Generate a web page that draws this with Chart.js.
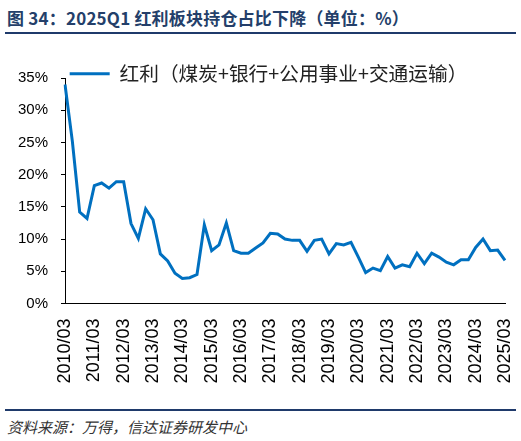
<!DOCTYPE html>
<html>
<head>
<meta charset="utf-8">
<script src="https://cdn.jsdelivr.net/npm/chart.js@4.4.0/dist/chart.umd.min.js"></script>
<style>
  html, body { margin: 0; padding: 0; background: #fff; }
  #wrap { position: relative; width: 521px; height: 441px; overflow: hidden; }
  #title { position: absolute; left: 7px; top: 5px; font: bold 17px "Noto Sans CJK SC", sans-serif; color: #243f6a; white-space: nowrap; letter-spacing: 0.2px; }
  .rule { position: absolute; left: 5px; width: 511px; height: 2px; background: #1f3a6b; }
  #source { position: absolute; left: 7px; top: 416px; font: italic 15px "Noto Sans CJK SC", sans-serif; color: #333; white-space: nowrap; }
  #chart { position: absolute; left: 0; top: 52px; }
</style>
</head>
<body>
<div id="wrap">
  <div id="title">图 34：2025Q1 红利板块持仓占比下降（单位：%）</div>
  <div class="rule" style="top:32px"></div>
  <canvas id="chart" width="521" height="344"></canvas>
  <div class="rule" style="top:409px"></div>
  <div id="source">资料来源：万得，信达证券研发中心</div>
</div>
<script>
// quarterly data, 2010/03 .. 2025/03
const years = ['2010', '2011', '2012', '2013', '2014', '2015', '2016', '2017',
               '2018', '2019', '2020', '2021', '2022', '2023', '2024', '2025'];
const months = ['03', '06', '09', '12'];
const seriesName = '红利（煤炭+银行+公用事业+交通运输）';
const dividendShare = [
  34.0, 25.2, 14.2, 13.2,
  18.3, 18.7, 17.9, 18.9,
  18.9, 12.4, 10.1, 14.7,
  13.0, 7.7, 6.6, 4.7,
  3.9, 4.0, 4.5, 12.2,
  8.2, 9.1, 12.5, 8.2,
  7.8, 7.8, 8.6, 9.4,
  10.9, 10.8, 10.0, 9.8,
  9.8, 8.1, 9.8, 10.0,
  7.7, 9.3, 9.1, 9.5,
  7.2, 4.8, 5.5, 5.1,
  7.3, 5.5, 6.0, 5.7,
  7.8, 6.2, 7.8, 7.2,
  6.4, 6.0, 6.8, 6.8,
  8.7, 10.0, 8.2, 8.3,
  6.7
];
const yTicks = [0, 5, 10, 15, 20, 25, 30, 35];

let labels = [];
years.forEach(y => {
  months.forEach(m => {
    if (labels.length < dividendShare.length) labels.push(y + '/' + m);
  });
});

// legend only reserves 26px so the plot starts right under it,
// then gets a bigger box back for drawing (it clips to its box)
const legendBox = {
  id: 'legendBox',
  beforeInit(chart) {
    const fit = chart.legend.fit;
    chart.legend.fit = function () {
      fit.bind(chart.legend)();
      this.height = 26;
    };
  },
  afterLayout(chart) {
    const lg = chart.legend;
    lg.left = 16;
    lg.right = 521;
    lg.width = 505;
    lg.height = 50;
    lg.bottom = lg.top + 50;
  }
};

const ctx = document.getElementById('chart').getContext('2d');
const myChart = new Chart(ctx, {
  type: 'line',
  data: {
    labels: labels,
    datasets: [{
      label: seriesName,
      data: dividendShare,
      borderColor: '#0070c0',
      backgroundColor: '#0070c0',
      borderWidth: 3,
      pointRadius: 0,
      tension: 0,
      fill: false
    }]
  },
  options: {
    responsive: false,
    animation: false,
    devicePixelRatio: 1,
    layout: { padding: { left: 0, right: 16, top: 0, bottom: 0 } },
    plugins: {
      tooltip: { enabled: false },
      legend: {
        position: 'top',
        align: 'center',
        labels: {
          usePointStyle: true,
          pointStyle: 'line',
          pointStyleWidth: 40,
          padding: 12,
          color: '#222',
          font: { family: '"Noto Sans CJK SC", sans-serif', size: 19.7 }
        }
      }
    },
    scales: {
      x: {
        offset: false,
        grid: { display: true, drawOnChartArea: false, drawTicks: false },
        border: { display: true, color: '#000', width: 1 },
        afterFit: s => { s.height = 92.5; s.paddingLeft = 0; s.paddingRight = 0; },
        ticks: {
          autoSkip: false,
          minRotation: 90,
          maxRotation: 90,
          padding: 15,
          color: '#000',
          font: { family: '"Liberation Sans", Arial, sans-serif', size: 18 },
          callback: function (v, i) { return i % 4 === 0 ? labels[i] : ''; }
        }
      },
      y: {
        min: 0,
        max: 35,
        afterFit: s => { s.width = 65; },
        afterBuildTicks: s => { s.ticks = yTicks.map(v => ({ value: v })); },
        grid: { display: true, drawOnChartArea: false, drawTicks: true, tickLength: 4, color: '#000' },
        border: { display: true, color: '#000', width: 1 },
        ticks: {
          padding: 13,
          color: '#000',
          font: { family: '"Liberation Sans", Arial, sans-serif', size: 15 },
          callback: v => v + '%'
        }
      }
    }
  },
  plugins: [legendBox]
});
</script>
</body>
</html>
